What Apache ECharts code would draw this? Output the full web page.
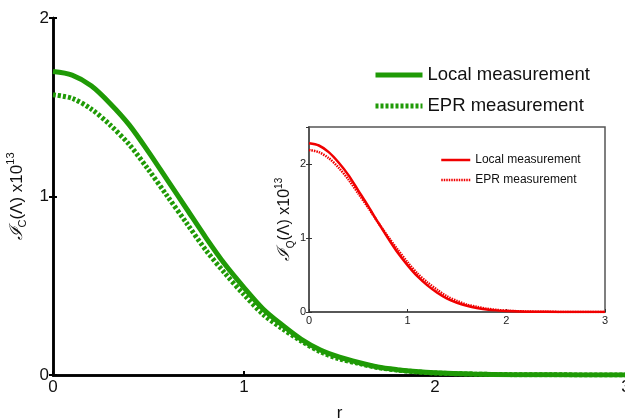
<!DOCTYPE html>
<html>
<head>
<meta charset="utf-8">
<script src="https://cdn.jsdelivr.net/npm/echarts@6/dist/echarts.min.js"></script>
<style>
html,body{margin:0;padding:0;background:#fff;}
#chart{width:625px;height:418px;}
</style>
</head>
<body>
<div id="chart"></div>
<script>
// r values (shared by all curves)
var rValues = [0,0.1,0.2,0.3,0.4,0.5,0.6,0.7,0.8,0.9,1.0,1.1,1.2,1.3,1.4,1.5,1.6,1.7,1.8,1.9,2.0,2.2,2.4,2.6,3.0];
// Main plot (green), values x10^13
var classicalLocal = [1.70,1.68,1.62,1.52,1.40,1.25,1.09,0.93,0.77,0.62,0.49,0.37,0.28,0.20,0.14,0.10,0.07,0.045,0.030,0.019,0.012,0.005,0.002,0.001,0.0];
var classicalEPR   = [1.57,1.55,1.49,1.40,1.29,1.15,1.00,0.85,0.70,0.57,0.45,0.34,0.26,0.19,0.13,0.09,0.065,0.042,0.028,0.018,0.011,0.005,0.002,0.001,0.0];
// Inset plot (red), values x10^13
var quantumLocal = [2.28,2.25,2.16,2.02,1.85,1.64,1.43,1.21,1.00,0.80,0.63,0.48,0.36,0.26,0.18,0.125,0.085,0.055,0.035,0.022,0.013,0.005,0.002,0.0005,0.0];
var quantumEPR   = [2.19,2.16,2.08,1.95,1.79,1.60,1.41,1.21,1.02,0.84,0.67,0.52,0.40,0.30,0.21,0.15,0.10,0.07,0.045,0.030,0.018,0.007,0.003,0.001,0.0];
var seriesNames = ['Local measurement','EPR measurement'];

function pairs(ys){ return rValues.map(function(r,i){ return [r, ys[i]]; }); }

var FONT = 'Liberation Sans';
var green = '#1f9a06';
var red = '#f00000';
var insetNames = [seriesNames[0] + ' ', seriesNames[1] + ' '];

var chart = echarts.init(document.getElementById('chart'), null, {renderer:'canvas'});

function yName(big, small){
  return {
    i:{fontFamily:'DejaVu Serif', fontStyle:'italic', fontSize:big+1, color:'#111', lineHeight:big+6, verticalAlign:'middle'},
    s:{fontFamily:FONT, fontSize:small, color:'#111', verticalAlign:'bottom', lineHeight:big+6},
    n:{fontFamily:FONT, fontSize:big, color:'#111', lineHeight:big+6, verticalAlign:'middle'},
    p:{fontFamily:FONT, fontSize:small, color:'#111', verticalAlign:'top', lineHeight:big+6}
  };
}

var option = {
  backgroundColor:'#ffffff',
  animation:false,
  grid:[
    {left:53, top:18, width:573, height:357, show:false, outerBoundsMode:'none', containLabel:false},
    {left:309, top:127, width:296, height:185, show:true, backgroundColor:'#ffffff', borderColor:'#555', borderWidth:1.5, z:3, outerBoundsMode:'none', containLabel:false}
  ],
  legend:[
    {data:seriesNames, orient:'vertical', left:373, top:65, padding:0, itemWidth:47, itemHeight:20, itemGap:11,
     itemStyle:{opacity:0}, lineStyle:{width:5},
     textStyle:{fontFamily:FONT, fontSize:18.5, color:'#111', lineHeight:20}, selectedMode:false},
    {data:insetNames, orient:'vertical', left:440, top:153, padding:0, itemWidth:29, itemHeight:14, itemGap:6,
     itemStyle:{opacity:0}, lineStyle:{width:2.5},
     textStyle:{fontFamily:FONT, fontSize:12, color:'#111', lineHeight:14}, selectedMode:false, z:10}
  ],
  xAxis:[
    {gridIndex:0, type:'value', min:0, max:3, interval:1,
     axisLine:{lineStyle:{color:'#000', width:2.5}},
     axisTick:{inside:true, length:4, lineStyle:{color:'#000', width:2}},
     axisLabel:{fontFamily:FONT, fontSize:17, color:'#111', margin:4},
     splitLine:{show:false},
     name:'r', nameLocation:'middle', nameGap:30, nameTextStyle:{fontFamily:FONT, fontSize:17, color:'#111'}},
    {gridIndex:0, type:'value', position:'top', min:0, max:3, interval:1,
     axisLine:{lineStyle:{color:'#000', width:2.5}}, axisTick:{show:false}, axisLabel:{show:false}, splitLine:{show:false}},
    {gridIndex:1, type:'value', min:0, max:3, interval:1, z:4,
     axisLine:{lineStyle:{color:'#555', width:1.5}},
     axisTick:{inside:true, length:3, lineStyle:{color:'#333', width:1}},
     axisLabel:{fontFamily:FONT, fontSize:11, color:'#222', margin:3},
     splitLine:{show:false}},
    {gridIndex:1, type:'value', position:'top', min:0, max:3, interval:1, z:4,
     axisLine:{lineStyle:{color:'#555', width:1.5}}, axisTick:{show:false}, axisLabel:{show:false}, splitLine:{show:false}}
  ],
  yAxis:[
    {gridIndex:0, type:'value', min:0, max:2, interval:1,
     axisLine:{lineStyle:{color:'#000', width:2.5}},
     axisTick:{inside:true, length:4, lineStyle:{color:'#000', width:2}},
     axisLabel:{fontFamily:FONT, fontSize:17, color:'#111', margin:4},
     splitLine:{show:false},
     name:'{i|ℐ}{s|C}{n|(Λ) x10}{p|13}', nameLocation:'middle', nameRotate:90, nameGap:17,
     nameTextStyle:{rich:yName(17,11)}},
    {gridIndex:0, type:'value', position:'right', min:0, max:2, interval:1,
     axisLine:{lineStyle:{color:'#000', width:2.5}},
     axisTick:{inside:true, length:4, lineStyle:{color:'#000', width:2}},
     axisLabel:{show:false}, splitLine:{show:false}},
    {gridIndex:1, type:'value', min:0, max:2.5, interval:1, z:4,
     axisLine:{lineStyle:{color:'#555', width:1.5}},
     axisTick:{inside:true, length:3, lineStyle:{color:'#333', width:1}},
     axisLabel:{fontFamily:FONT, fontSize:11, color:'#222', margin:3, showMaxLabel:false,
       formatter:function(v){ return (Math.abs(v-Math.round(v))<1e-9) ? String(v) : ''; }},
     splitLine:{show:false},
     name:'{i|ℐ}{s|Q}{n|(Λ) x10}{p|13}', nameLocation:'middle', nameRotate:90, nameGap:12,
     nameTextStyle:{rich:yName(16,10)}},
    {gridIndex:1, type:'value', position:'right', min:0, max:2.5, interval:1, z:4,
     axisLine:{lineStyle:{color:'#555', width:1.5}},
     axisTick:{inside:true, length:3, lineStyle:{color:'#333', width:1}},
     axisLabel:{show:false}, splitLine:{show:false}}
  ],
  series:[
    {name:seriesNames[0], type:'line', xAxisIndex:0, yAxisIndex:0, data:pairs(classicalLocal), smooth:0.3, symbol:'none',
     lineStyle:{color:green, width:5}, itemStyle:{color:green}, z:2},
    {name:seriesNames[1], type:'line', xAxisIndex:0, yAxisIndex:0, data:pairs(classicalEPR), smooth:0.3, symbol:'none',
     lineStyle:{color:green, width:5, type:[3,2]}, itemStyle:{color:green}, z:2},
    {name:insetNames[0], type:'line', xAxisIndex:2, yAxisIndex:2, data:pairs(quantumLocal), smooth:0.3, symbol:'none',
     lineStyle:{color:red, width:2.5}, itemStyle:{color:red}, z:5},
    {name:insetNames[1], type:'line', xAxisIndex:2, yAxisIndex:2, data:pairs(quantumEPR), smooth:0.3, symbol:'none',
     lineStyle:{color:red, width:2.5, type:[1.5,1]}, itemStyle:{color:red}, z:5}
  ]
};
chart.setOption(option);
</script>
</body>
</html>
